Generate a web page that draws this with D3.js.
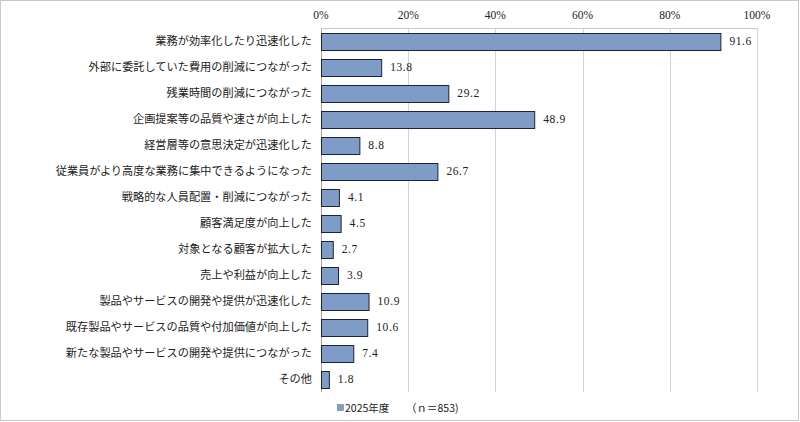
<!DOCTYPE html>
<html>
<head>
<meta charset="utf-8">
<script src="https://cdn.jsdelivr.net/npm/d3@7"></script>
<style>
  html, body { margin: 0; padding: 0; background: #fff; }
  svg { display: block; }
</style>
</head>
<body>
<svg id="chart" width="800" height="422"></svg>
<script>
// データ
const categories = [
  "業務が効率化したり迅速化した",
  "外部に委託していた費用の削減につながった",
  "残業時間の削減につながった",
  "企画提案等の品質や速さが向上した",
  "経営層等の意思決定が迅速化した",
  "従業員がより高度な業務に集中できるようになった",
  "戦略的な人員配置・削減につながった",
  "顧客満足度が向上した",
  "対象となる顧客が拡大した",
  "売上や利益が向上した",
  "製品やサービスの開発や提供が迅速化した",
  "既存製品やサービスの品質や付加価値が向上した",
  "新たな製品やサービスの開発や提供につながった",
  "その他"
];
const values2025 = [91.6, 13.8, 29.2, 48.9, 8.8, 26.7, 4.1, 4.5, 2.7, 3.9, 10.9, 10.6, 7.4, 1.8];
const xTicks = [0, 20, 40, 60, 80, 100];
const seriesName = "2025年度";
const sampleNote = "（ｎ＝853)";

const svg = d3.select("#chart");
const W = 800, H = 422;
const plot = { left: 321, right: 757, top: 28, bottom: 392 };

const jpFont = "'Noto Sans CJK JP', sans-serif";
const numFont = "'Liberation Serif', serif";

// 外枠
svg.append("rect")
  .attr("x", 0.5).attr("y", 0.5)
  .attr("width", W - 2).attr("height", H - 2)
  .attr("fill", "#fff")
  .attr("stroke", "#c8c8c8");

const x = d3.scaleLinear().domain([0, 100]).range([plot.left, plot.right]);
const y = d3.scaleBand().domain(categories).range([plot.top, plot.bottom]).paddingInner(0.35).paddingOuter(0.175);

// グリッド線
svg.append("g")
  .selectAll("line")
  .data(xTicks)
  .join("line")
  .attr("x1", d => Math.round(x(d)) + 0.5)
  .attr("x2", d => Math.round(x(d)) + 0.5)
  .attr("y1", plot.top)
  .attr("y2", plot.bottom)
  .attr("stroke", d => d === 0 ? "#a6a6a6" : "#d4d4d4");

svg.append("line")
  .attr("x1", plot.left).attr("x2", plot.right + 0.5)
  .attr("y1", plot.top + 0.5).attr("y2", plot.top + 0.5)
  .attr("stroke", "#c8c8c8");

// 上部の目盛りラベル
svg.append("g")
  .selectAll("text")
  .data(xTicks)
  .join("text")
  .attr("x", d => x(d))
  .attr("y", 19)
  .attr("text-anchor", "middle")
  .attr("font-family", numFont)
  .attr("font-size", 11.5)
  .attr("fill", "#222")
  .text(d => d + "%");

// 棒
svg.append("g")
  .selectAll("rect")
  .data(values2025)
  .join("rect")
  .attr("x", x(0) + 0.5)
  .attr("y", (d, i) => Math.round(y(categories[i])) + 0.5)
  .attr("width", d => x(d) - x(0))
  .attr("height", Math.round(y.bandwidth()))
  .attr("fill", "#7f9cc6")
  .attr("stroke", "#1d2433")
  .attr("stroke-width", 1);

// 値ラベル
svg.append("g")
  .selectAll("text")
  .data(values2025)
  .join("text")
  .attr("x", d => x(d) + 9)
  .attr("y", (d, i) => y(categories[i]) + y.bandwidth() / 2 + 4)
  .attr("font-family", numFont)
  .attr("font-size", 11.5)
  .attr("letter-spacing", "0.6px")
  .attr("fill", "#222")
  .text(d => d.toFixed(1));

// 項目ラベル
svg.append("g")
  .selectAll("text")
  .data(categories)
  .join("text")
  .attr("x", 312)
  .attr("y", d => y(d) + y.bandwidth() / 2 + 4)
  .attr("text-anchor", "end")
  .attr("font-family", jpFont)
  .attr("font-size", 11.2)
  .attr("fill", "#222")
  .text(d => d);

// 凡例
const lg = svg.append("g");
lg.append("rect")
  .attr("x", 337.5).attr("y", 404.5)
  .attr("width", 6).attr("height", 6)
  .attr("fill", "#7f9cc6")
  .attr("stroke", "#5d6f8a")
  .attr("stroke-width", 0.5);
lg.append("text")
  .attr("x", 345).attr("y", 412)
  .attr("font-family", jpFont)
  .attr("font-size", 10.5)
  .attr("fill", "#222")
  .text(seriesName);
lg.append("text")
  .attr("x", 406).attr("y", 412)
  .attr("font-family", jpFont)
  .attr("font-size", 10.5)
  .attr("fill", "#222")
  .text(sampleNote);
</script>
</body>
</html>
